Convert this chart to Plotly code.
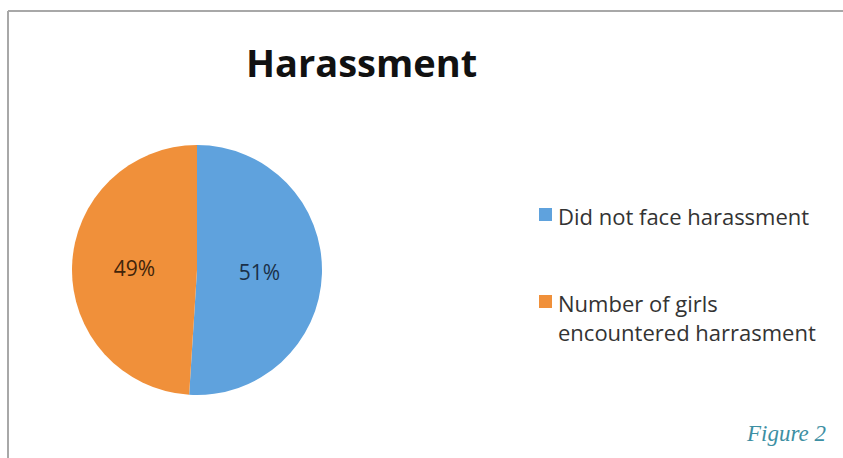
import plotly.graph_objects as go

# Survey breakdown
categories = ["Did not face harassment", "Number of girls encountered harrasment"]
legend_labels = ["Did not face harassment", "Number of girls<br>encountered harrasment"]
shares = [51, 49]
colors = ["#5fa2dd", "#f0903a"]
label_colors = ["#1a3048", "#40240a"]

W, H = 843, 458


def px(x):
    return x / W


def py(y):
    return 1 - y / H


fig = go.Figure()
fig.add_trace(go.Pie(
    labels=categories,
    values=shares,
    sort=False,
    direction="clockwise",
    rotation=0,
    marker=dict(colors=colors, line=dict(width=0)),
    texttemplate="%{value}%",
    textposition="inside",
    insidetextorientation="horizontal",
    insidetextfont=dict(family="Open Sans", size=21, color=label_colors),
    showlegend=False,
    hoverinfo="label+percent",
    domain=dict(x=[px(72), px(322)], y=[py(395), py(145)]),
))

annotations = [
    dict(text="<b>Harassment</b>", x=px(361), y=py(62), xref="paper", yref="paper",
         xanchor="center", yanchor="middle", showarrow=False,
         font=dict(family="Open Sans", size=38, color="#111111")),
    dict(text="Figure 2", x=px(828), y=py(433), xref="paper", yref="paper",
         xanchor="right", yanchor="middle", showarrow=False,
         font=dict(family="Liberation Serif", size=23, color="#3d8fa3", style="italic")),
]

shapes = [
    # chart frame
    dict(type="line", xref="paper", yref="paper", x0=px(8), x1=1, y0=py(11), y1=py(11),
         line=dict(color="#a8a8a8", width=2)),
    dict(type="line", xref="paper", yref="paper", x0=px(8), x1=px(8), y0=py(11), y1=0,
         line=dict(color="#a8a8a8", width=2)),
]

# Legend entries
legend_rows = [215, 302]
for label, color, yc in zip(legend_labels, colors, legend_rows):
    shapes.append(dict(type="rect", xref="paper", yref="paper",
                       x0=px(539), x1=px(552), y0=py(yc + 6), y1=py(yc - 7),
                       fillcolor=color, line=dict(width=0)))
    annotations.append(dict(text=label, x=px(556), y=py(yc - 16), xref="paper", yref="paper",
                            xanchor="left", yanchor="top", align="left", showarrow=False,
                            font=dict(family="Open Sans", size=22, color="#333333")))

fig.update_layout(
    width=W, height=H,
    margin=dict(l=0, r=0, t=0, b=0),
    paper_bgcolor="white",
    plot_bgcolor="white",
    annotations=annotations,
    shapes=shapes,
)

fig.write_html("out.html")
